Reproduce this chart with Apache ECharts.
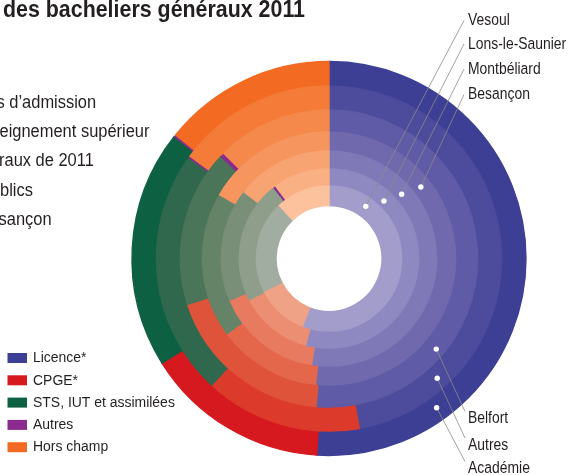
<!DOCTYPE html>
<html>
<head>
<meta charset="utf-8">
<script src="https://cdn.jsdelivr.net/npm/echarts@6/dist/echarts.min.js"></script>
<style>
  html, body { margin: 0; padding: 0; background: #ffffff; }
  #chart { width: 571px; height: 475px; }
</style>
</head>
<body>
<div id="chart"></div>
<script>
// Destination categories (legend order = clockwise order from 12 o'clock)
const categories = ['Licence*', 'CPGE*', 'STS, IUT et assimilées', 'Autres', 'Hors champ'];

// Rings, from the innermost to the outermost
const rings = ['Vesoul', 'Lons-le-Saunier', 'Montbéliard', 'Besançon', 'Belfort', 'Autres', 'Académie'];

// Shares (%) for each ring, in category order
const vesoul       = [55.9, 11.6, 20.4, 0.0, 12.0];
const lonsSaunier  = [54.2, 13.2, 22.0, 0.5, 10.1];
const montbeliard  = [52.6, 16.1, 16.9, 0.0, 14.4];
const besancon     = [51.7, 13.2, 18.5, 0.0, 16.6];
const belfort      = [51.4, 18.6, 17.0, 0.5, 12.5];
const autresVilles = [47.2, 14.7, 23.0, 0.2, 14.9];
const academie     = [51.0, 15.1, 19.5, 0.2, 14.2];
const ringValues = [vesoul, lonsSaunier, montbeliard, besancon, belfort, autresVilles, academie];

// Text blocks
const titleText = 'des bacheliers généraux 2011';
const introLines = ['s d\u2019admission', 'eignement supérieur', 'raux de 2011', 'blics', 'sançon'];

// ---- layout & style ----
// Liberation Sans squeezed horizontally stands in for a condensed face
const FONT = '"Liberation Sans", Arial, sans-serif';
const INK = '#231f20';
const CX = 329, CY = 258.5;
const RADII = [53, 71, 88, 106, 125, 147, 171, 197];
const SEAM = 1.6; // each inner ring reaches slightly under its outer neighbour

// shades per category, innermost ring first
const palette = [
  ['#a39dcb', '#8f89c1', '#7f79b8', '#7069ae', '#5f5ba6', '#4c4b9c', '#3d3f95'],
  ['#f0a286', '#ec8e72', '#e87b5f', '#e4674c', '#e0533b', '#dc3b2b', '#d6181f'],
  ['#a1ada0', '#8e9e8b', '#7a8f78', '#658366', '#4b7559', '#30684d', '#0d6142'],
  ['#8b2b8f', '#8b2b8f', '#8b2b8f', '#8b2b8f', '#8b2b8f', '#8b2b8f', '#8b2b8f'],
  ['#fcc19d', '#f9b083', '#f8a472', '#f6965e', '#f5894c', '#f47b38', '#f36a23']
];
const OUTER = RADII.length - 2;

// where each ring's marker sits (degrees clockwise from 12 o'clock, depth within the ring)
const markerAngle = [35.2, 43.7, 48.5, 52.1, 130.2, 137.9, 144.2];
const markerDepth = [0.6, 0.5, 0.5, 0.55, 0.7, 0.6, 0.5];
const labelY = [20.5, 44, 69, 94.5, 418.5, 445, 468.5];

// outer rings first so every inner ring is painted over the seam
const series = ringValues.map((vals, i) => ({
  type: 'pie',
  name: 'Anneau ' + rings[i],
  center: [CX, CY],
  radius: [RADII[i], RADII[i + 1] + (i < OUTER ? SEAM : 0)],
  startAngle: 90,
  clockwise: true,
  padAngle: 0,
  silent: true,
  animation: false,
  avoidLabelOverlap: false,
  label: { show: false },
  labelLine: { show: false },
  emphasis: { disabled: true },
  data: categories.map((c, j) => ({
    name: c,
    value: vals[j],
    itemStyle: {
      color: palette[j][i],
      borderColor: palette[j][i],
      borderWidth: j === 3 ? 0.6 : 1.4,
      borderRadius: 0,
      borderJoin: 'miter'
    }
  }))
})).reverse();

const graphics = [];

// heading and intro text
graphics.push({
  type: 'text', x: 3, y: 10.5, scaleX: 0.93, z: 10,
  style: { text: titleText, fontFamily: FONT, fontWeight: 'bold', fontSize: 23, fill: INK, verticalAlign: 'middle' }
});
const introX = [-3.5, -0.5, -1, 0, -1.5];
introLines.forEach((t, k) => {
  graphics.push({
    type: 'text', x: introX[k], y: 103 + k * 29.2, scaleX: 0.9, z: 10,
    style: { text: t, fontFamily: FONT, fontSize: 18.3, fill: INK, verticalAlign: 'middle' }
  });
});

// legend: swatches in the outer-ring shades
categories.forEach((c, j) => {
  const y = 358 + j * 22.3;
  graphics.push({
    type: 'rect', z: 10, silent: true,
    shape: { x: 7.5, y: y - 5, width: 19.5, height: 10 },
    style: { fill: palette[j][OUTER] }
  });
  graphics.push({
    type: 'text', x: 33, y: y, scaleX: 0.9, z: 10,
    style: { text: c, fontFamily: FONT, fontSize: 15.5, fill: INK, verticalAlign: 'middle' }
  });
});

// ring markers, leader lines and ring names
rings.forEach((name, i) => {
  const r = RADII[i] + markerDepth[i] * (RADII[i + 1] - RADII[i]);
  const a = markerAngle[i] * Math.PI / 180;
  const px = CX + r * Math.sin(a);
  const py = CY - r * Math.cos(a);
  const top = i < 4;
  const ex = top ? 464 : 465;
  const ey = top ? labelY[i] : labelY[i] - 7;
  graphics.push({
    type: 'line', z: 20, silent: true,
    shape: { x1: px, y1: py, x2: ex, y2: ey },
    style: { stroke: '#8a8a8a', lineWidth: 0.8 }
  });
  graphics.push({
    type: 'circle', z: 21, silent: true,
    shape: { cx: px, cy: py, r: 2.7 },
    style: { fill: '#ffffff' }
  });
  graphics.push({
    type: 'text', x: 468, y: labelY[i], scaleX: 0.8, z: 10,
    style: { text: name, fontFamily: FONT, fontSize: 17.4, fill: INK, verticalAlign: 'middle' }
  });
});

const chart = echarts.init(document.getElementById('chart'), null, { renderer: 'canvas' });
chart.setOption({
  backgroundColor: '#ffffff',
  animation: false,
  series: series,
  graphic: graphics
});
</script>
</body>
</html>
